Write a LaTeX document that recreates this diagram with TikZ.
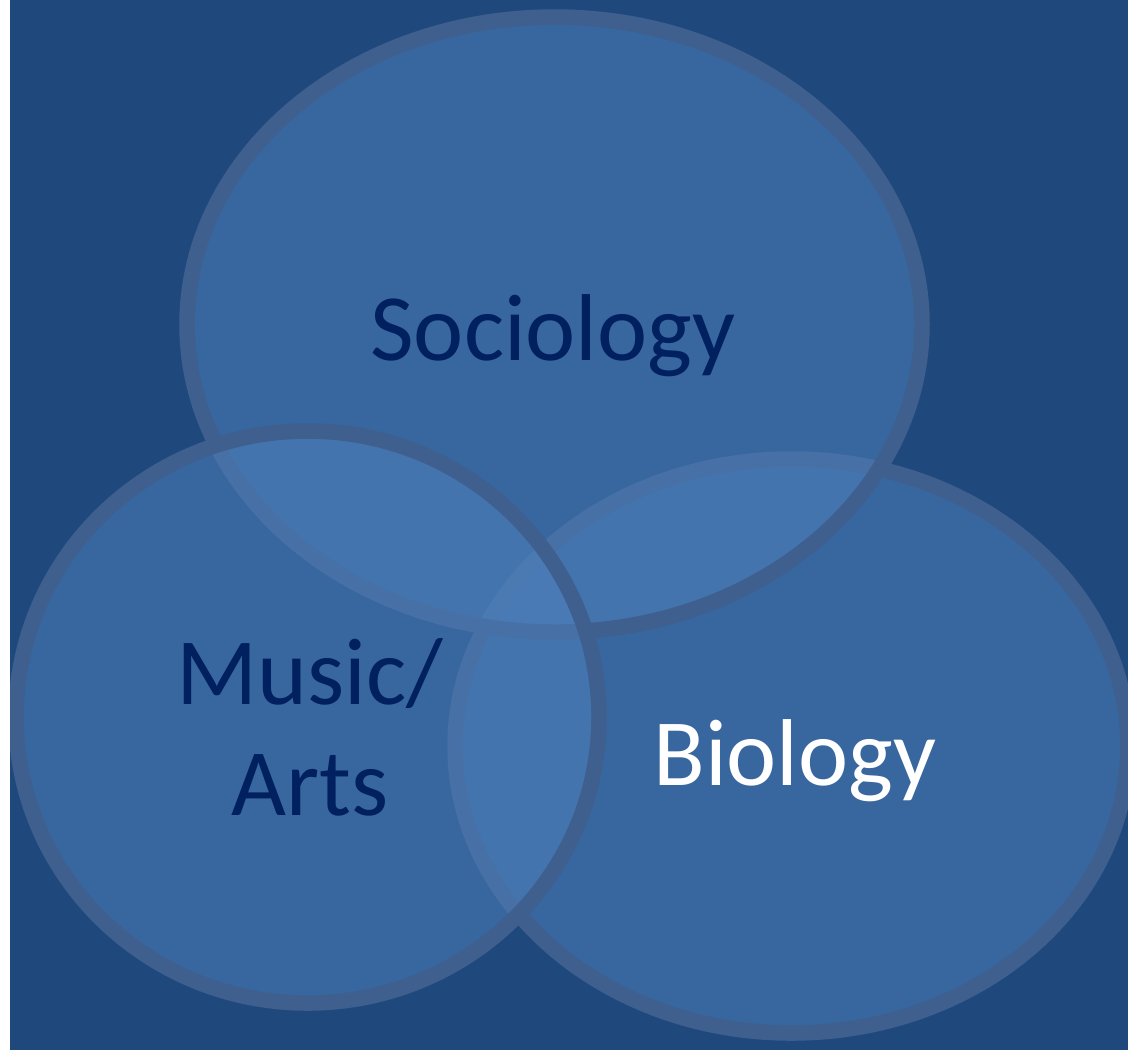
\documentclass[tikz,border=0pt]{standalone}
\usepackage{fontspec}
\setmainfont{Carlito}
\usepackage{xcolor}
\usepackage{tikz}

\definecolor{bgblue}{HTML}{1F497D}
\definecolor{setfill}{HTML}{4F81BD}
\definecolor{setline}{HTML}{3F608E}
\definecolor{labelnavy}{HTML}{002060}

\tikzset{
  setshape/.style={fill=setfill, fill opacity=0.52, draw=setline, draw opacity=1, line width=4.4pt},
  setlabel/.style={text=labelnavy, font=\fontsize{27}{31.5}\selectfont, anchor=base, align=center, inner sep=0pt}
}

\begin{document}
\begin{tikzpicture}[x=0.01cm, y=-0.01cm]
        \useasboundingbox (0,0) rectangle (1128,1050);
        \fill[white] (0,0) rectangle (1128,1050);
        \fill[bgblue] (10,0) rectangle (1128,1050);

        % the three sets, back to front
        \begin{scope}
            \clip (10,0) rectangle (1128,1050);
            \draw[setshape] (791.5,746) ellipse [x radius=336.5, y radius=287];
            \draw[setshape] (554.5,324.5) ellipse [x radius=367.5, y radius=307.5];
            \draw[setshape] (307.5,717) ellipse [x radius=291.5, y radius=286];
        \end{scope}

        % labels (base = last line)
        \node[setlabel] (soc) at (553,360) {Sociology};
        \node[setlabel] (mus) at (310,815) {Music/\\Arts};
        \node[setlabel, text=white] (bio) at (795,785) {Biology};
\end{tikzpicture}
\end{document}
